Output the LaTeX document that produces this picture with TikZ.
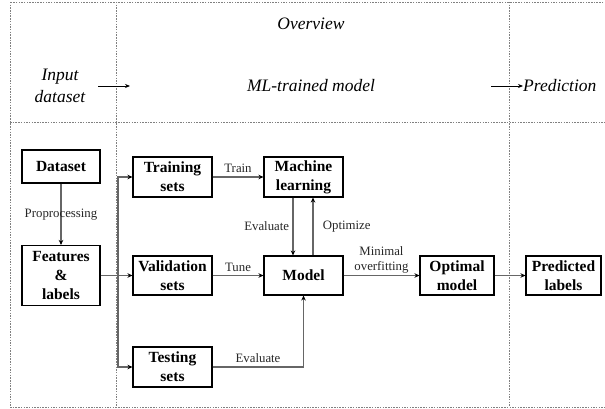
\documentclass[tikz,border=0pt]{standalone}
\usepackage{fontspec}
\setmainfont{Liberation Serif}
\usetikzlibrary{calc,arrows.meta}

\begin{document}
\begin{tikzpicture}[x=1pt,y=-1pt,
	blk/.style={draw,line width=1.1pt,align=center,inner sep=0pt,minimum width=78pt,minimum height=39pt,font=\fontsize{15.5}{19.3}\selectfont\bfseries},
	lbl/.style={text=black!85,font=\fontsize{12.8}{15}\selectfont,align=center},
	head/.style={font=\fontsize{17.5}{22}\selectfont\itshape,align=center},
	frame/.style={gray,line width=0.6pt,dash pattern=on 1.5pt off 1.2pt},
	conn/.style={black!60,line width=1.1pt,-{Stealth[black,length=5pt,width=4.5pt]}},
	tarrow/.style={black,line width=0.8pt,-{Stealth[length=5pt,width=4pt]}}]
	
	\useasboundingbox (0,0) rectangle (605,409);
	
	%frame
	\draw[frame] (10,2) rectangle (605,407);
	\draw[frame] (10,122) -- (605,122);
	\draw[frame] (116,2) -- (116,407);
	\draw[frame] (509,2) -- (509,407);
	
	%overview
	\node[head] (ov) at (311,24) {Overview};
	\node[head] (inp) at (60,86) {Input\\dataset};
	\node[head] (mlt) at (311,86) {ML-trained model};
	\node[head,anchor=west,inner sep=0pt] (pred) at (523,86) {Prediction};
	\coordinate (a1) at (98,86);
	\coordinate (a2) at (130,86);
	\coordinate (a3) at (491,86);
	\draw[tarrow] (a1) -- (a2);
	\draw[tarrow] (a3) -- (pred.west);
	
	%blocks
	\node[blk,minimum height=33pt] (data) at (61,166.5) {Dataset};
	\node[blk,minimum height=60pt] (feat) at (61,275.5) {Features\\\&\\labels};
	\node[blk,minimum width=79pt,minimum height=40pt] (train) at (172.5,177) {Training\\sets};
	\node[blk,minimum width=79pt] (valid) at (172.5,275.5) {Validation\\sets};
	\node[blk,minimum width=79pt,minimum height=40pt] (test) at (172.5,367) {Testing\\sets};
	\node[blk,minimum width=79pt,minimum height=40pt] (mach) at (303.5,177) {Machine\\learning};
	\node[blk,minimum width=79pt] (model) at (303.5,275.5) {Model};
	\node[blk,minimum width=74pt] (opt) at (457,275.5) {Optimal\\model};
	\node[blk,minimum width=75pt] (plab) at (563.5,275.5) {Predicted\\labels};
	\coordinate (br) at (118,275.5);
	
	\begin{scope}[every node/.style={lbl}]
	%edges
	\draw[conn] (data) -- node{Proprocessing} (feat);
	\draw[conn] (feat) -- (valid);
	\draw[conn] (br) |- (train.west);
	\draw[conn] (br) |- (test.west);
	\draw[conn] (train) -- node[above]{Train} (mach);
	\draw[conn] (valid) -- node[above]{Tune} (model);
	\draw[conn] (test.east) -| node[pos=0.25,above]{Evaluate} (model.south);
	\draw[conn] ([xshift=-10.5pt]mach.south) -- node[left]{Evaluate} ([xshift=-10.5pt]model.north);
	\draw[conn] ([xshift=9.5pt]model.north) -- node[right,xshift=6pt]{Optimize} ([xshift=9.5pt]mach.south);
	\draw[conn] (model) -- node[above,inner sep=2pt]{Minimal\\overfitting} (opt);
	\draw[conn] (opt) -- (plab);
	\end{scope}
\end{tikzpicture}
\end{document}
